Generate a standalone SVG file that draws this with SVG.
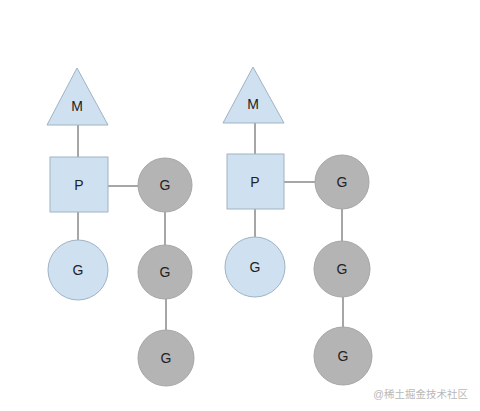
<svg xmlns="http://www.w3.org/2000/svg" width="480" height="411" viewBox="0 0 480 411">
<style>
.tri,.sq,.bg{fill:#cfe1f0;stroke:#9fb3c4;stroke-width:1}
.gg{fill:#b5b4b5;stroke:#a6a6a6;stroke-width:1}
.ln{stroke:#6b6b6b;stroke-width:1.2;fill:none}
.lb{font-family:"Liberation Sans",Arial,sans-serif;font-size:14px;fill:#222;text-anchor:middle;dominant-baseline:central}
.wm{font-family:"Liberation Sans","Noto Sans CJK SC",sans-serif;font-size:10.5px;fill:#b8b8b8;text-anchor:end}
</style>
<rect width="480" height="411" fill="#ffffff"/>
<g id="connectors">
<line class="ln" x1="78" y1="125" x2="78" y2="157"/>
<line class="ln" x1="108" y1="186" x2="138" y2="186"/>
<line class="ln" x1="78" y1="212" x2="78" y2="240"/>
<line class="ln" x1="165" y1="212" x2="165" y2="246"/>
<line class="ln" x1="166" y1="298" x2="166" y2="330"/>
<line class="ln" x1="255" y1="123" x2="255" y2="154"/>
<line class="ln" x1="284" y1="182" x2="315" y2="182"/>
<line class="ln" x1="255" y1="209" x2="255" y2="237"/>
<line class="ln" x1="342" y1="209" x2="342" y2="241"/>
<line class="ln" x1="343" y1="297" x2="343" y2="328"/>
</g>
<g id="M1"><polygon class="tri" points="77,68 108,125 47,125"/><text class="lb" x="77" y="106">M</text></g>
<g id="P1"><rect class="sq" x="50" y="157" width="58" height="55"/><text class="lb" x="79" y="185">P</text></g>
<g id="G1"><circle class="gg" cx="165" cy="185" r="27"/><text class="lb" x="165" y="185">G</text></g>
<g id="G2"><circle class="bg" cx="78" cy="270" r="30"/><text class="lb" x="78" y="270">G</text></g>
<g id="G3"><circle class="gg" cx="165" cy="272" r="27"/><text class="lb" x="165" y="272">G</text></g>
<g id="G4"><circle class="gg" cx="166" cy="358" r="28"/><text class="lb" x="166" y="358">G</text></g>
<g id="M2"><polygon class="tri" points="253,67 284,123 223,123"/><text class="lb" x="253" y="104">M</text></g>
<g id="P2"><rect class="sq" x="227" y="154" width="57" height="55"/><text class="lb" x="255" y="182">P</text></g>
<g id="G5"><circle class="gg" cx="342" cy="182" r="27"/><text class="lb" x="342" y="182">G</text></g>
<g id="G6"><circle class="bg" cx="255" cy="267" r="30"/><text class="lb" x="255" y="267">G</text></g>
<g id="G7"><circle class="gg" cx="342" cy="269" r="28"/><text class="lb" x="342" y="269">G</text></g>
<g id="G8"><circle class="gg" cx="343" cy="356" r="29"/><text class="lb" x="343" y="356">G</text></g>
<text class="wm" x="468" y="398">@稀土掘金技术社区</text>
</svg>
